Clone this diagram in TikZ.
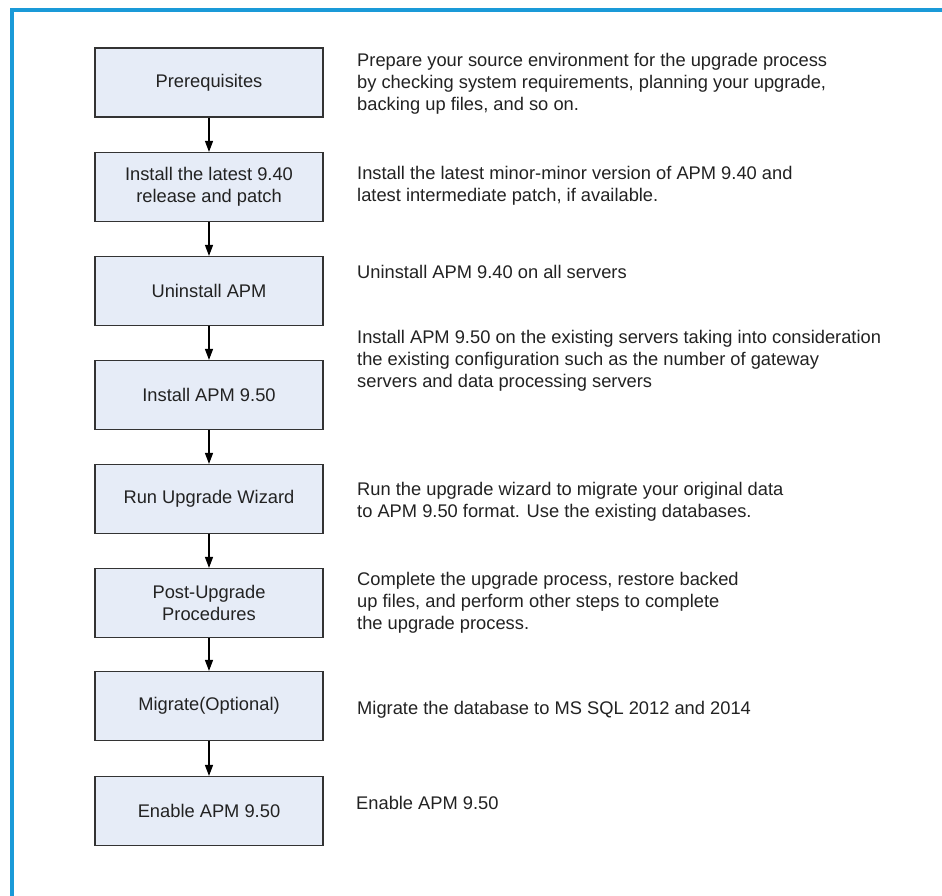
\documentclass[tikz,border=0pt]{standalone}
\usepackage{fontspec}
\setmainfont{Liberation Sans}
\usetikzlibrary{arrows.meta}
\definecolor{frameblue}{HTML}{1A9AD8}
\definecolor{boxfill}{HTML}{E6ECF7}
\definecolor{boxline}{HTML}{333333}
\definecolor{txt}{HTML}{222222}
\begin{document}
\begin{tikzpicture}[x=1pt,y=-1pt,
  stepbox/.style={draw=boxline,fill=boxfill,line width=1.2pt,minimum width=228pt,minimum height=69pt,
    align=center,font=\fontsize{18.3}{22}\selectfont,text=txt,inner sep=0pt},
  desc/.style={anchor=west,align=left,font=\fontsize{18.3}{22}\selectfont,text=txt,inner sep=0pt},
  flow/.style={line width=1.2pt,-{Triangle[width=8pt,length=11pt]}}]
\useasboundingbox (0,0) rectangle (942,895);
\fill[white] (0,0) rectangle (942,895);
\draw[frameblue,line width=4pt] (12,897) -- (12,10) -- (944,10);
\node[stepbox] (b1) at (209,82.5) {Prerequisites};
\node[stepbox] (b2) at (209,187) {Install the latest 9.40\\release and patch};
\node[stepbox] (b3) at (209,291) {Uninstall APM};
\node[stepbox] (b4) at (209,395) {Install APM 9.50};
\node[stepbox] (b5) at (209,499) {Run Upgrade Wizard};
\node[stepbox] (b6) at (209,603) {Post-Upgrade\\Procedures};
\node[stepbox] (b7) at (209,706) {Migrate(Optional)};
\node[stepbox] (b8) at (209,811) {Enable APM 9.50};
\foreach \a/\b in {b1/b2,b2/b3,b3/b4,b4/b5,b5/b6,b6/b7,b7/b8}
  \draw[flow] (\a.south) -- (\b.north);
\node[desc] (d1) at (357,84) {Prepare your source environment for the upgrade process\\by checking system requirements, planning your upgrade,\\backing up files, and so on.};
\node[desc] (d2) at (357,186) {Install the latest minor-minor version of APM 9.40 and\\latest intermediate patch, if available.};
\node[desc] (d3) at (357,272) {Uninstall APM 9.40 on all servers};
\node[desc] (d4) at (357,361) {Install APM 9.50 on the existing servers taking into consideration\\the existing configuration such as the number of gateway\\servers and data processing servers};
\node[desc] (d5) at (357,502) {Run the upgrade wizard to migrate your original data\\to APM 9.50 format. Use the existing databases.};
\node[desc] (d6) at (357,603) {Complete the upgrade process, restore backed\\up files, and perform other steps to complete\\the upgrade process.};
\node[desc] (d7) at (357,710) {Migrate the database to MS SQL 2012 and 2014};
\node[desc] (d8) at (356,803) {Enable APM 9.50};
\end{tikzpicture}
\end{document}
